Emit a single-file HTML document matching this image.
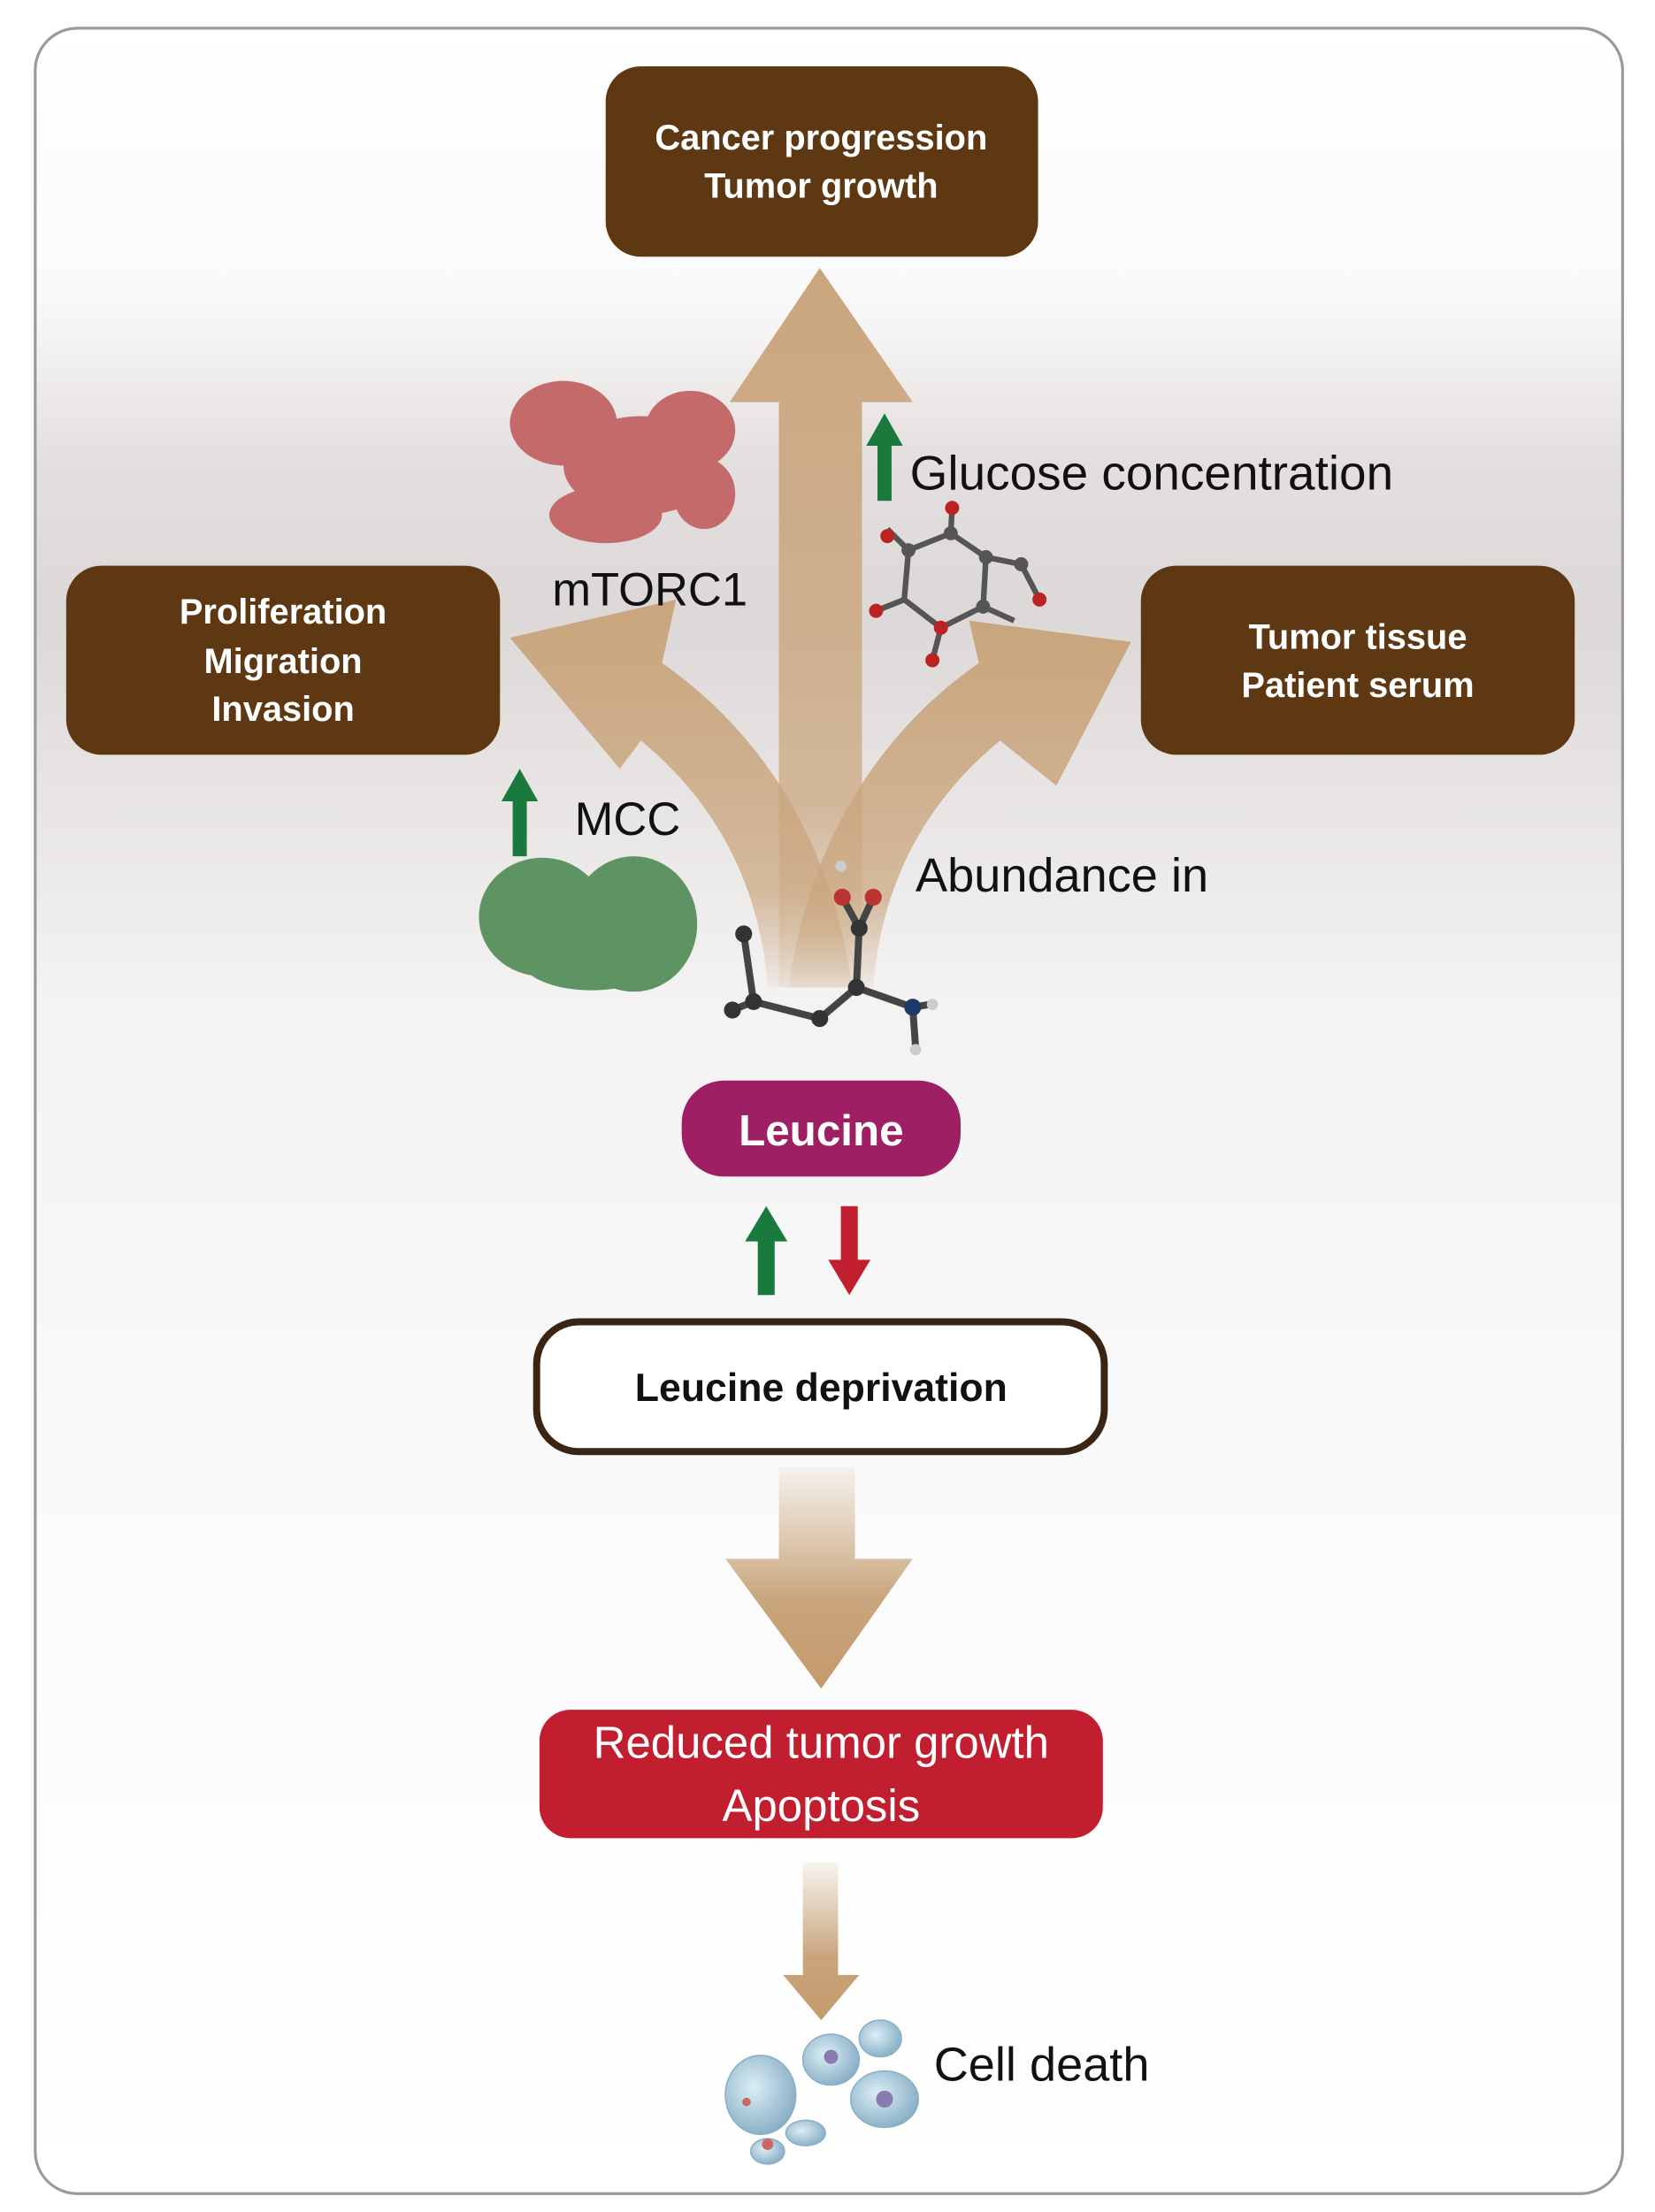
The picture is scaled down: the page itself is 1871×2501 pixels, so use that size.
<!DOCTYPE html>
<html><head><meta charset="utf-8"><style>html,body{margin:0;padding:0;background:#fff}svg{display:block}</style></head>
<body>
<svg width="1871" height="2501" viewBox="0 0 1175 1568" preserveAspectRatio="none" xmlns="http://www.w3.org/2000/svg" font-family="Liberation Sans, sans-serif">
<defs>
<linearGradient id="bg" x1="0" y1="0" x2="0" y2="1">
<stop offset="0" stop-color="#ffffff"/>
<stop offset="0.12" stop-color="#fbfafa"/>
<stop offset="0.2" stop-color="#e4dfdf"/>
<stop offset="0.27" stop-color="#ddd8d8"/>
<stop offset="0.45" stop-color="#f4f2f2"/>
<stop offset="0.7" stop-color="#fbfbfb"/>
<stop offset="1" stop-color="#ffffff"/>
</linearGradient>
<linearGradient id="up" x1="0" y1="1" x2="0" y2="0">
<stop offset="0" stop-color="#c9a57c" stop-opacity="0.1"/>
<stop offset="0.25" stop-color="#c9a57c" stop-opacity="0.7"/>
<stop offset="1" stop-color="#c9a57c"/>
</linearGradient>
<linearGradient id="dn" x1="0" y1="0" x2="0" y2="1">
<stop offset="0" stop-color="#c9a57c" stop-opacity="0.1"/>
<stop offset="0.6" stop-color="#c9a57c"/>
<stop offset="1" stop-color="#c49a6c"/>
</linearGradient>
<radialGradient id="cell" cx="0.4" cy="0.4" r="0.7">
<stop offset="0" stop-color="#dbeef6"/><stop offset="1" stop-color="#7fa8bf"/>
</radialGradient>
</defs>
<rect x="25" y="20" width="1127" height="1535" rx="30" fill="url(#bg)" stroke="#9a9a9a" stroke-width="2"/>

<g fill="url(#up)">
<path d="M553 700 L553 285 L518 285 L582 190 L648 285 L612 285 L612 700 Z"/>
<path d="M545 700 C540 630 510 570 455 525 L440 545 L362 452 L480 425 L470 470 C535 515 590 590 605 700 Z"/>
<path d="M620 700 C625 630 655 570 710 525 L750 557 L803 455 L688 440 L695 470 C630 515 575 590 560 700 Z"/>
<path d="M553 1040 L607 1040 L607 1105 L648 1105 L583 1197 L515 1105 L553 1105 Z" fill="url(#dn)"/>
<path d="M570 1320 L595 1320 L595 1400 L610 1400 L583 1432 L556 1400 L570 1400 Z" fill="url(#dn)"/>
</g>

<rect x="430" y="47" width="307" height="135" rx="25" fill="#5e3813"/>
<text x="583" y="106" font-size="25" font-weight="bold" fill="#fff" text-anchor="middle">Cancer progression</text>
<text x="583" y="140" font-size="25" font-weight="bold" fill="#fff" text-anchor="middle">Tumor growth</text>
<rect x="47" y="401" width="308" height="134" rx="25" fill="#5e3813"/>
<text x="201" y="442" font-size="25" font-weight="bold" fill="#fff" text-anchor="middle">Proliferation</text>
<text x="201" y="477" font-size="25" font-weight="bold" fill="#fff" text-anchor="middle">Migration</text>
<text x="201" y="511" font-size="25" font-weight="bold" fill="#fff" text-anchor="middle">Invasion</text>
<rect x="810" y="401" width="308" height="134" rx="25" fill="#5e3813"/>
<text x="964" y="460" font-size="25" font-weight="bold" fill="#fff" text-anchor="middle">Tumor tissue</text>
<text x="964" y="494" font-size="25" font-weight="bold" fill="#fff" text-anchor="middle">Patient serum</text>

<g fill="#1a7a3e">
<path d="M623 355 L623 316 L615 316 L628 293 L641 316 L633 316 L633 355 Z"/>
<path d="M364 607 L364 568 L356 568 L369 545 L382 568 L374 568 L374 607 Z"/>
<path d="M538 918 L538 880 L529 880 L544 855 L559 880 L550 880 L550 918 Z"/>
</g>
<path d="M597 855 L609 855 L609 893 L618 893 L603 918 L588 893 L597 893 Z" fill="#c11f2f"/>

<text x="646" y="347" font-size="34.5" fill="#111">Glucose concentration</text>
<text x="392" y="429" font-size="33" fill="#111">mTORC1</text>
<text x="408" y="592" font-size="33" fill="#111">MCC</text>
<text x="650" y="632" font-size="34" fill="#111">Abundance in</text>

<g fill="#c56a6a">
<ellipse cx="400" cy="300" rx="38" ry="30"/>
<ellipse cx="455" cy="330" rx="55" ry="35"/>
<ellipse cx="490" cy="305" rx="32" ry="28"/>
<ellipse cx="430" cy="365" rx="40" ry="20"/>
<ellipse cx="500" cy="350" rx="22" ry="25"/>
</g>
<g fill="#5e9464">
<ellipse cx="385" cy="650" rx="45" ry="42"/>
<ellipse cx="450" cy="655" rx="45" ry="48"/>
<ellipse cx="420" cy="680" rx="50" ry="22"/>
</g>

<g stroke="#555" stroke-width="4" fill="none">
<path d="M645 390 L675 378 L700 395 L698 430 L668 445 L642 425 Z"/>
<path d="M675 378 L676 360 M700 395 L725 400 L738 425 M698 430 L720 440 M668 445 L662 468 M642 425 L622 433 M645 390 L630 375"/>
</g>
<g fill="#b22"><circle cx="676" cy="360" r="5"/><circle cx="738" cy="425" r="5"/><circle cx="622" cy="433" r="5"/><circle cx="662" cy="468" r="5"/><circle cx="630" cy="380" r="5"/><circle cx="668" cy="445" r="5"/></g>
<g fill="#555"><circle cx="645" cy="390" r="5"/><circle cx="675" cy="378" r="5"/><circle cx="700" cy="395" r="5"/><circle cx="698" cy="430" r="5"/><circle cx="725" cy="400" r="5"/></g>

<g stroke="#444" stroke-width="5" fill="none">
<path d="M528 662 L535 710 L520 716 M535 710 L582 722 L608 700 L610 658 L598 636 M610 658 L620 636 M608 700 L648 714 L660 712 M648 714 L650 742"/>
</g>
<g fill="#333"><circle cx="528" cy="662" r="6"/><circle cx="535" cy="710" r="6"/><circle cx="520" cy="716" r="6"/><circle cx="582" cy="722" r="6"/><circle cx="608" cy="700" r="6"/><circle cx="610" cy="658" r="6"/></g>
<g fill="#b33"><circle cx="598" cy="636" r="6"/><circle cx="620" cy="636" r="6"/></g>
<circle cx="648" cy="714" r="6" fill="#1a3a6a"/>
<g fill="#ccc"><circle cx="597" cy="614" r="4"/><circle cx="662" cy="712" r="4"/><circle cx="650" cy="744" r="4"/></g>

<rect x="484" y="766" width="198" height="68" rx="30" fill="#9e1f63"/>
<text x="583" y="812" font-size="31" font-weight="bold" fill="#fff" text-anchor="middle">Leucine</text>

<rect x="381" y="937" width="403" height="92" rx="30" fill="#fff" stroke="#3a2414" stroke-width="5"/>
<text x="583" y="993" font-size="28" font-weight="bold" fill="#111" text-anchor="middle">Leucine deprivation</text>

<rect x="383" y="1212" width="400" height="91" rx="22" fill="#c11f2f"/>
<text x="583" y="1246" font-size="32" fill="#fff" text-anchor="middle">Reduced tumor growth</text>
<text x="583" y="1291" font-size="32" fill="#fff" text-anchor="middle">Apoptosis</text>

<g fill="url(#cell)" stroke="#8ab0c6" stroke-width="1">
<ellipse cx="540" cy="1485" rx="25" ry="28"/>
<ellipse cx="590" cy="1460" rx="20" ry="18"/>
<ellipse cx="625" cy="1445" rx="15" ry="13"/>
<ellipse cx="628" cy="1488" rx="24" ry="20"/>
<ellipse cx="572" cy="1512" rx="14" ry="9"/>
<ellipse cx="545" cy="1525" rx="12" ry="9"/>
</g>
<g fill="#c66"><circle cx="545" cy="1520" r="4"/><circle cx="530" cy="1490" r="3"/></g>
<g fill="#8a7ab0"><circle cx="590" cy="1458" r="5"/><circle cx="628" cy="1488" r="6"/></g>
<text x="663" y="1475" font-size="34" fill="#111">Cell death</text>
</svg>
</body></html>
